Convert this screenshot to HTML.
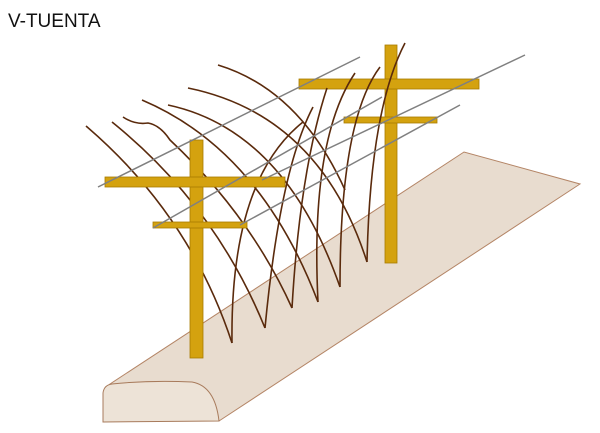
<!DOCTYPE html>
<html><head><style>body{margin:0;background:#fff}svg{display:block}</style></head><body>
<svg width="600" height="433" viewBox="0 0 600 433" xmlns="http://www.w3.org/2000/svg">
<text x="8" y="27" font-family="Liberation Sans, sans-serif" font-size="19" fill="#111">V-TUENTA</text>
<!-- ground -->
<path d="M110,384 L464,152 L580,184 L219,421 Z" fill="#e8dccf" stroke="#b48566" stroke-width="1"/>
<path d="M103,422 L103,393 Q104,385 112,384 Q150,380 192,382 Q215,386 219,421 Z" fill="#ede3d7" stroke="#a87b5c" stroke-width="1"/>
<!-- back post -->
<rect x="385" y="45" width="12" height="218" fill="#d4a20f" stroke="#a87c00" stroke-width="0.8"/>
<rect x="299" y="79" width="180" height="10" fill="#d4a20f" stroke="#a87c00" stroke-width="0.8"/>
<rect x="344" y="117" width="93" height="6" fill="#d4a20f" stroke="#a87c00" stroke-width="0.8"/>
<!-- vines -->
<g fill="none" stroke="#5a2a0c" stroke-width="1.6">
<path d="M86,126 Q190,215 232,343"/>
<path d="M112,122 Q215,205 265,328"/>
<path d="M123,117 Q135,125 148,123 Q160,125 170,140 Q250,215 292,308"/>
<path d="M142,100 Q260,150 318,302"/>
<path d="M168,105 Q285,130 340,287"/>
<path d="M188,88 Q320,115 367,262"/>
<path d="M218,65 Q300,90 345,190"/>
<path d="M232,343 Q230,180 303,122"/>
<path d="M265,328 Q280,170 313,107"/>
<path d="M292,308 Q300,170 327,88"/>
<path d="M318,302 Q310,140 355,73"/>
<path d="M340,287 Q340,120 380,67"/>
<path d="M367,262 Q370,110 405,43"/>
</g>
<!-- front post -->
<rect x="190" y="140" width="13" height="218" fill="#d4a20f" stroke="#a87c00" stroke-width="0.8"/>
<rect x="105" y="177" width="180" height="10" fill="#d4a20f" stroke="#a87c00" stroke-width="0.8"/>
<rect x="153" y="222" width="94" height="6" fill="#d4a20f" stroke="#a87c00" stroke-width="0.8"/>
<!-- wires -->
<g stroke="#808080" stroke-width="1.5">
<line x1="98" y1="187" x2="360" y2="57"/>
<line x1="262" y1="180" x2="525" y2="55"/>
<line x1="153" y1="228" x2="382" y2="97"/>
<line x1="240" y1="225" x2="460" y2="105"/>
</g>
</svg>
</body></html>
